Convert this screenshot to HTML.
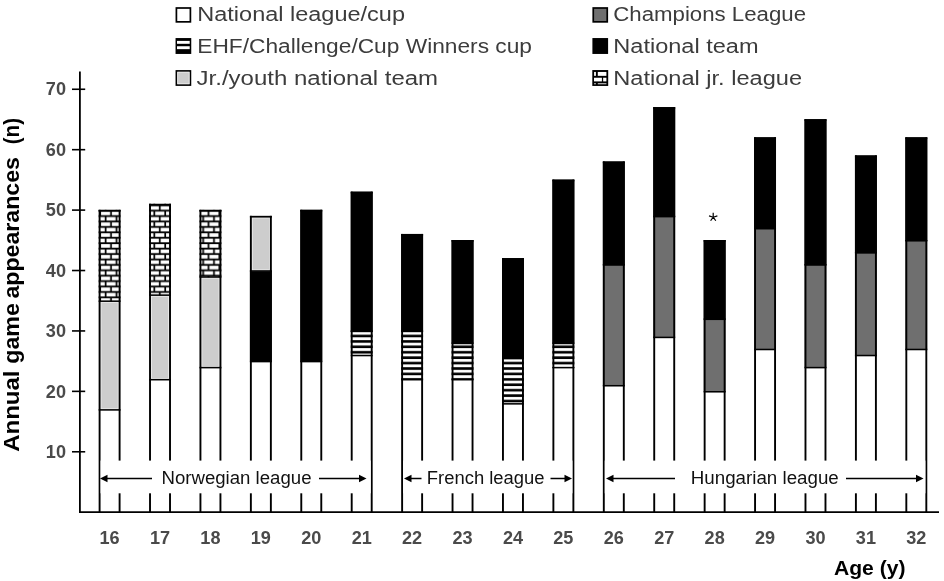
<!DOCTYPE html>
<html><head><meta charset="utf-8"><title>chart</title>
<style>
html,body{margin:0;padding:0;background:#fff;}
body{width:944px;height:581px;overflow:hidden;font-family:"Liberation Sans",sans-serif;}
svg{display:block;will-change:transform;}
text{font-family:"Liberation Sans",sans-serif;}
.leg{font-size:19.5px;fill:#3c3c3c;}
.tick{font-size:18.1px;font-weight:bold;fill:#4a4a4a;}
.lab{font-size:17.5px;fill:#111;}
.ax{font-weight:bold;fill:#000;}
</style></head><body>
<svg width="944" height="581" viewBox="0 0 944 581">
<defs>
<pattern id="stripe" patternUnits="userSpaceOnUse" x="6.360" y="8.450" width="10.84" height="5.42"><rect x="0" y="0" width="10.84" height="5.42" fill="#fff"/><rect x="0" y="1.055" width="10.84" height="2.6" fill="#000"/></pattern>
<pattern id="brick" patternUnits="userSpaceOnUse" x="6.360" y="8.450" width="10.84" height="10.84"><rect x="0" y="0" width="10.84" height="10.84" fill="#fff"/><rect x="0" y="0.780" width="10.84" height="1.8" fill="#000"/><rect x="0" y="6.200" width="10.84" height="1.8" fill="#000"/><rect x="0.830" y="1.68" width="1.7" height="5.42" fill="#000"/><rect x="6.250" y="7.1" width="1.7" height="3.740" fill="#000"/><rect x="6.250" y="0" width="1.7" height="1.68" fill="#000"/></pattern></defs>
<rect x="0" y="0" width="944" height="581" fill="#fff"/>
<rect x="98.65" y="300.40" width="21.90" height="109.72" fill="#ececec"/>
<rect x="101.45" y="302.75" width="16.30" height="105.57" fill="#cdcdcd"/>
<rect x="98.65" y="209.80" width="21.90" height="91.60" fill="url(#brick)"/>
<rect x="98.65" y="409.12" width="21.90" height="1.55" fill="#000"/>
<rect x="98.65" y="300.40" width="21.90" height="1.55" fill="#000"/>
<rect x="98.65" y="209.80" width="21.90" height="1.75" fill="#000"/>
<rect x="98.65" y="209.80" width="1.9" height="302.20" fill="#000"/>
<rect x="118.65" y="209.80" width="1.9" height="302.20" fill="#000"/>
<rect x="149.07" y="294.36" width="21.90" height="85.56" fill="#ececec"/>
<rect x="151.87" y="296.71" width="16.30" height="81.41" fill="#cdcdcd"/>
<rect x="149.07" y="203.76" width="21.90" height="91.60" fill="url(#brick)"/>
<rect x="149.07" y="378.92" width="21.90" height="1.55" fill="#000"/>
<rect x="149.07" y="294.36" width="21.90" height="1.55" fill="#000"/>
<rect x="149.07" y="203.76" width="21.90" height="1.75" fill="#000"/>
<rect x="149.07" y="203.76" width="1.9" height="308.24" fill="#000"/>
<rect x="169.07" y="203.76" width="1.9" height="308.24" fill="#000"/>
<rect x="199.49" y="276.24" width="21.90" height="91.60" fill="#ececec"/>
<rect x="202.29" y="278.59" width="16.30" height="87.45" fill="#cdcdcd"/>
<rect x="199.49" y="209.80" width="21.90" height="67.44" fill="url(#brick)"/>
<rect x="199.49" y="366.84" width="21.90" height="1.55" fill="#000"/>
<rect x="199.49" y="276.24" width="21.90" height="1.55" fill="#000"/>
<rect x="199.49" y="209.80" width="21.90" height="1.75" fill="#000"/>
<rect x="199.49" y="209.80" width="1.9" height="302.20" fill="#000"/>
<rect x="219.49" y="209.80" width="1.9" height="302.20" fill="#000"/>
<rect x="249.91" y="270.20" width="21.90" height="91.60" fill="#000"/>
<rect x="249.91" y="215.84" width="21.90" height="55.36" fill="#ececec"/>
<rect x="252.71" y="218.39" width="16.30" height="51.01" fill="#cdcdcd"/>
<rect x="249.91" y="360.80" width="21.90" height="1.55" fill="#000"/>
<rect x="249.91" y="270.20" width="21.90" height="1.55" fill="#000"/>
<rect x="249.91" y="215.84" width="21.90" height="1.75" fill="#000"/>
<rect x="249.91" y="215.84" width="1.9" height="296.16" fill="#000"/>
<rect x="269.91" y="215.84" width="1.9" height="296.16" fill="#000"/>
<rect x="300.33" y="209.80" width="21.90" height="152.00" fill="#000"/>
<rect x="300.33" y="360.80" width="21.90" height="1.55" fill="#000"/>
<rect x="300.33" y="209.80" width="21.90" height="1.75" fill="#000"/>
<rect x="300.33" y="209.80" width="1.9" height="302.20" fill="#000"/>
<rect x="320.33" y="209.80" width="1.9" height="302.20" fill="#000"/>
<rect x="350.75" y="330.60" width="21.90" height="25.16" fill="url(#stripe)"/>
<rect x="350.75" y="191.68" width="21.90" height="139.92" fill="#000"/>
<rect x="350.75" y="354.76" width="21.90" height="1.55" fill="#000"/>
<rect x="350.75" y="330.60" width="21.90" height="1.55" fill="#000"/>
<rect x="350.75" y="191.68" width="21.90" height="1.75" fill="#000"/>
<rect x="350.75" y="191.68" width="1.9" height="320.32" fill="#000"/>
<rect x="370.75" y="191.68" width="1.9" height="320.32" fill="#000"/>
<rect x="401.17" y="330.60" width="21.90" height="49.32" fill="url(#stripe)"/>
<rect x="401.17" y="233.96" width="21.90" height="97.64" fill="#000"/>
<rect x="401.17" y="378.92" width="21.90" height="1.55" fill="#000"/>
<rect x="401.17" y="330.60" width="21.90" height="1.55" fill="#000"/>
<rect x="401.17" y="233.96" width="21.90" height="1.75" fill="#000"/>
<rect x="401.17" y="233.96" width="1.9" height="278.04" fill="#000"/>
<rect x="421.17" y="233.96" width="1.9" height="278.04" fill="#000"/>
<rect x="451.59" y="342.68" width="21.90" height="37.24" fill="url(#stripe)"/>
<rect x="451.59" y="240.00" width="21.90" height="103.68" fill="#000"/>
<rect x="451.59" y="378.92" width="21.90" height="1.55" fill="#000"/>
<rect x="451.59" y="342.68" width="21.90" height="1.55" fill="#000"/>
<rect x="451.59" y="240.00" width="21.90" height="1.75" fill="#000"/>
<rect x="451.59" y="240.00" width="1.9" height="272.00" fill="#000"/>
<rect x="471.59" y="240.00" width="1.9" height="272.00" fill="#000"/>
<rect x="502.01" y="357.78" width="21.90" height="46.30" fill="url(#stripe)"/>
<rect x="502.01" y="258.12" width="21.90" height="100.66" fill="#000"/>
<rect x="502.01" y="403.08" width="21.90" height="1.55" fill="#000"/>
<rect x="502.01" y="357.78" width="21.90" height="1.55" fill="#000"/>
<rect x="502.01" y="258.12" width="21.90" height="1.75" fill="#000"/>
<rect x="502.01" y="258.12" width="1.9" height="253.88" fill="#000"/>
<rect x="522.01" y="258.12" width="1.9" height="253.88" fill="#000"/>
<rect x="552.43" y="342.68" width="21.90" height="25.16" fill="url(#stripe)"/>
<rect x="552.43" y="179.60" width="21.90" height="164.08" fill="#000"/>
<rect x="552.43" y="366.84" width="21.90" height="1.55" fill="#000"/>
<rect x="552.43" y="342.68" width="21.90" height="1.55" fill="#000"/>
<rect x="552.43" y="179.60" width="21.90" height="1.75" fill="#000"/>
<rect x="552.43" y="179.60" width="1.9" height="332.40" fill="#000"/>
<rect x="572.43" y="179.60" width="1.9" height="332.40" fill="#000"/>
<rect x="602.85" y="264.16" width="21.90" height="121.80" fill="#6f6f6f"/>
<rect x="602.85" y="161.48" width="21.90" height="103.68" fill="#000"/>
<rect x="602.85" y="384.96" width="21.90" height="1.55" fill="#000"/>
<rect x="602.85" y="264.16" width="21.90" height="1.55" fill="#000"/>
<rect x="602.85" y="161.48" width="21.90" height="1.75" fill="#000"/>
<rect x="602.85" y="161.48" width="1.9" height="350.52" fill="#000"/>
<rect x="622.85" y="161.48" width="1.9" height="350.52" fill="#000"/>
<rect x="653.27" y="215.84" width="21.90" height="121.80" fill="#6f6f6f"/>
<rect x="653.27" y="107.12" width="21.90" height="109.72" fill="#000"/>
<rect x="653.27" y="336.64" width="21.90" height="1.55" fill="#000"/>
<rect x="653.27" y="215.84" width="21.90" height="1.55" fill="#000"/>
<rect x="653.27" y="107.12" width="21.90" height="1.75" fill="#000"/>
<rect x="653.27" y="107.12" width="1.9" height="404.88" fill="#000"/>
<rect x="673.27" y="107.12" width="1.9" height="404.88" fill="#000"/>
<rect x="703.69" y="318.52" width="21.90" height="73.48" fill="#6f6f6f"/>
<rect x="703.69" y="240.00" width="21.90" height="79.52" fill="#000"/>
<rect x="703.69" y="391.00" width="21.90" height="1.55" fill="#000"/>
<rect x="703.69" y="318.52" width="21.90" height="1.55" fill="#000"/>
<rect x="703.69" y="240.00" width="21.90" height="1.75" fill="#000"/>
<rect x="703.69" y="240.00" width="1.9" height="272.00" fill="#000"/>
<rect x="723.69" y="240.00" width="1.9" height="272.00" fill="#000"/>
<rect x="754.11" y="227.92" width="21.90" height="121.80" fill="#6f6f6f"/>
<rect x="754.11" y="137.32" width="21.90" height="91.60" fill="#000"/>
<rect x="754.11" y="348.72" width="21.90" height="1.55" fill="#000"/>
<rect x="754.11" y="227.92" width="21.90" height="1.55" fill="#000"/>
<rect x="754.11" y="137.32" width="21.90" height="1.75" fill="#000"/>
<rect x="754.11" y="137.32" width="1.9" height="374.68" fill="#000"/>
<rect x="774.11" y="137.32" width="1.9" height="374.68" fill="#000"/>
<rect x="804.53" y="264.16" width="21.90" height="103.68" fill="#6f6f6f"/>
<rect x="804.53" y="119.20" width="21.90" height="145.96" fill="#000"/>
<rect x="804.53" y="366.84" width="21.90" height="1.55" fill="#000"/>
<rect x="804.53" y="264.16" width="21.90" height="1.55" fill="#000"/>
<rect x="804.53" y="119.20" width="21.90" height="1.75" fill="#000"/>
<rect x="804.53" y="119.20" width="1.9" height="392.80" fill="#000"/>
<rect x="824.53" y="119.20" width="1.9" height="392.80" fill="#000"/>
<rect x="854.95" y="252.08" width="21.90" height="103.68" fill="#6f6f6f"/>
<rect x="854.95" y="155.44" width="21.90" height="97.64" fill="#000"/>
<rect x="854.95" y="354.76" width="21.90" height="1.55" fill="#000"/>
<rect x="854.95" y="252.08" width="21.90" height="1.55" fill="#000"/>
<rect x="854.95" y="155.44" width="21.90" height="1.75" fill="#000"/>
<rect x="854.95" y="155.44" width="1.9" height="356.56" fill="#000"/>
<rect x="874.95" y="155.44" width="1.9" height="356.56" fill="#000"/>
<rect x="905.37" y="240.00" width="21.90" height="109.72" fill="#6f6f6f"/>
<rect x="905.37" y="137.32" width="21.90" height="103.68" fill="#000"/>
<rect x="905.37" y="348.72" width="21.90" height="1.55" fill="#000"/>
<rect x="905.37" y="240.00" width="21.90" height="1.55" fill="#000"/>
<rect x="905.37" y="137.32" width="21.90" height="1.75" fill="#000"/>
<rect x="905.37" y="137.32" width="1.9" height="374.68" fill="#000"/>
<rect x="925.37" y="137.32" width="1.9" height="374.68" fill="#000"/>
<rect x="100.55" y="460.6" width="270.20" height="32.7" fill="#fff"/>
<rect x="403.07" y="460.6" width="169.36" height="32.7" fill="#fff"/>
<rect x="604.75" y="460.6" width="320.62" height="32.7" fill="#fff"/>
<line x1="79.9" y1="71.5" x2="79.9" y2="513" stroke="#000" stroke-width="1.8"/>
<line x1="79" y1="512.1" x2="939" y2="512.1" stroke="#000" stroke-width="1.7"/>
<line x1="72" y1="451.78" x2="85.2" y2="451.78" stroke="#000" stroke-width="1.6"/>
<text class="tick" x="66" y="457.98" text-anchor="end">10</text>
<line x1="72" y1="391.36" x2="85.2" y2="391.36" stroke="#000" stroke-width="1.6"/>
<text class="tick" x="66" y="397.56" text-anchor="end">20</text>
<line x1="72" y1="330.94" x2="85.2" y2="330.94" stroke="#000" stroke-width="1.6"/>
<text class="tick" x="66" y="337.14" text-anchor="end">30</text>
<line x1="72" y1="270.52" x2="85.2" y2="270.52" stroke="#000" stroke-width="1.6"/>
<text class="tick" x="66" y="276.72" text-anchor="end">40</text>
<line x1="72" y1="210.10" x2="85.2" y2="210.10" stroke="#000" stroke-width="1.6"/>
<text class="tick" x="66" y="216.30" text-anchor="end">50</text>
<line x1="72" y1="149.68" x2="85.2" y2="149.68" stroke="#000" stroke-width="1.6"/>
<text class="tick" x="66" y="155.88" text-anchor="end">60</text>
<line x1="72" y1="89.26" x2="85.2" y2="89.26" stroke="#000" stroke-width="1.6"/>
<text class="tick" x="66" y="95.46" text-anchor="end">70</text>
<text class="tick" x="109.60" y="544.4" text-anchor="middle">16</text>
<text class="tick" x="160.02" y="544.4" text-anchor="middle">17</text>
<text class="tick" x="210.44" y="544.4" text-anchor="middle">18</text>
<text class="tick" x="260.86" y="544.4" text-anchor="middle">19</text>
<text class="tick" x="311.28" y="544.4" text-anchor="middle">20</text>
<text class="tick" x="361.70" y="544.4" text-anchor="middle">21</text>
<text class="tick" x="412.12" y="544.4" text-anchor="middle">22</text>
<text class="tick" x="462.54" y="544.4" text-anchor="middle">23</text>
<text class="tick" x="512.96" y="544.4" text-anchor="middle">24</text>
<text class="tick" x="563.38" y="544.4" text-anchor="middle">25</text>
<text class="tick" x="613.80" y="544.4" text-anchor="middle">26</text>
<text class="tick" x="664.22" y="544.4" text-anchor="middle">27</text>
<text class="tick" x="714.64" y="544.4" text-anchor="middle">28</text>
<text class="tick" x="765.06" y="544.4" text-anchor="middle">29</text>
<text class="tick" x="815.48" y="544.4" text-anchor="middle">30</text>
<text class="tick" x="865.90" y="544.4" text-anchor="middle">31</text>
<text class="tick" x="916.32" y="544.4" text-anchor="middle">32</text>
<line x1="105" y1="478.5" x2="152" y2="478.5" stroke="#000" stroke-width="1.5"/>
<path d="M100 478.5 L107.5 474.7 L107.5 482.3 Z" fill="#000"/>
<line x1="361.5" y1="478.5" x2="319" y2="478.5" stroke="#000" stroke-width="1.5"/>
<path d="M366.5 478.5 L359.0 474.7 L359.0 482.3 Z" fill="#000"/>
<line x1="409" y1="478.5" x2="421.5" y2="478.5" stroke="#000" stroke-width="1.5"/>
<path d="M404 478.5 L411.5 474.7 L411.5 482.3 Z" fill="#000"/>
<line x1="567" y1="478.5" x2="550.5" y2="478.5" stroke="#000" stroke-width="1.5"/>
<path d="M572 478.5 L564.5 474.7 L564.5 482.3 Z" fill="#000"/>
<line x1="611" y1="478.5" x2="675" y2="478.5" stroke="#000" stroke-width="1.5"/>
<path d="M606 478.5 L613.5 474.7 L613.5 482.3 Z" fill="#000"/>
<line x1="918.5" y1="478.5" x2="846" y2="478.5" stroke="#000" stroke-width="1.5"/>
<path d="M923.5 478.5 L916.0 474.7 L916.0 482.3 Z" fill="#000"/>
<text class="lab" x="161.5" y="483.6" textLength="150" lengthAdjust="spacingAndGlyphs">Norwegian league</text>
<text class="lab" x="426.8" y="483.6" textLength="117.8" lengthAdjust="spacingAndGlyphs">French league</text>
<text class="lab" x="690.8" y="483.6" textLength="148" lengthAdjust="spacingAndGlyphs">Hungarian league</text>
<path d="M713.2 217.2 L713.20 212.80 M713.2 217.2 L717.38 215.84 M713.2 217.2 L715.79 220.76 M713.2 217.2 L710.61 220.76 M713.2 217.2 L709.02 215.84" stroke="#000" stroke-width="1.2" fill="none" stroke-linecap="butt"/>
<text class="ax" x="834" y="574.7" font-size="20.8" textLength="71.5" lengthAdjust="spacingAndGlyphs">Age (y)</text>
<text class="ax" transform="translate(19.3,451.8) rotate(-90) scale(1.082,1)" font-size="22.2">Annual</text>
<text class="ax" transform="translate(19.3,363.7) rotate(-90) scale(1.043,1)" font-size="22.2">game</text>
<text class="ax" transform="translate(19.3,298.6) rotate(-90) scale(1.043,1)" font-size="22.2">appearances</text>
<text class="ax" transform="translate(19.3,144.3) rotate(-90) scale(0.928,1)" font-size="22.2">(n)</text>
<text class="leg" x="197.3" y="21.4" textLength="207.7" lengthAdjust="spacingAndGlyphs">National league/cup</text>
<text class="leg" x="613.3" y="21.4" textLength="192.7" lengthAdjust="spacingAndGlyphs">Champions League</text>
<text class="leg" x="197.3" y="53.1" textLength="334.7" lengthAdjust="spacingAndGlyphs">EHF/Challenge/Cup Winners cup</text>
<text class="leg" x="613.3" y="53.1" textLength="145.2" lengthAdjust="spacingAndGlyphs">National team</text>
<text class="leg" x="196.6" y="84.8" textLength="241.5" lengthAdjust="spacingAndGlyphs">Jr./youth national team</text>
<text class="leg" x="613.3" y="84.8" textLength="188.7" lengthAdjust="spacingAndGlyphs">National jr. league</text>
<rect x="176.40" y="8.00" width="14.00" height="13.85" fill="#fff" stroke="#000" stroke-width="1.7"/>
<rect x="593.25" y="8.00" width="14.00" height="13.85" fill="#6f6f6f" stroke="#000" stroke-width="1.7"/>
<rect x="593.25" y="38.90" width="14.00" height="14.20" fill="#000" stroke="#000" stroke-width="1.7"/>
<rect x="176.40" y="70.95" width="14.00" height="14.10" fill="#cdcdcd" stroke="#000" stroke-width="1.7"/>
<rect x="177.25" y="71.8" width="12.3" height="12.4" fill="#ececec"/>
<rect x="178.1" y="72.65" width="10.6" height="10.7" fill="#cdcdcd"/>
<rect x="175.55" y="38.05" width="15.7" height="15.9" fill="#000"/>
<rect x="177.0" y="40.9" width="12.7" height="2.9" fill="#fff"/>
<rect x="177.0" y="46.25" width="12.7" height="2.9" fill="#fff"/>
<rect x="592.3" y="70.05" width="15.9" height="15.9" fill="#000"/>
<rect x="594.1" y="71.95" width="1.80" height="3.90" fill="#fff"/>
<rect x="597.8" y="71.95" width="8.60" height="3.90" fill="#fff"/>
<rect x="594.0" y="77.75" width="7.90" height="3.65" fill="#fff"/>
<rect x="603.15" y="77.75" width="3.25" height="3.65" fill="#fff"/>
<rect x="594.1" y="83.1" width="1.80" height="1.20" fill="#bbb"/>
<rect x="597.8" y="83.1" width="8.60" height="1.20" fill="#bbb"/>
</svg></body></html>
